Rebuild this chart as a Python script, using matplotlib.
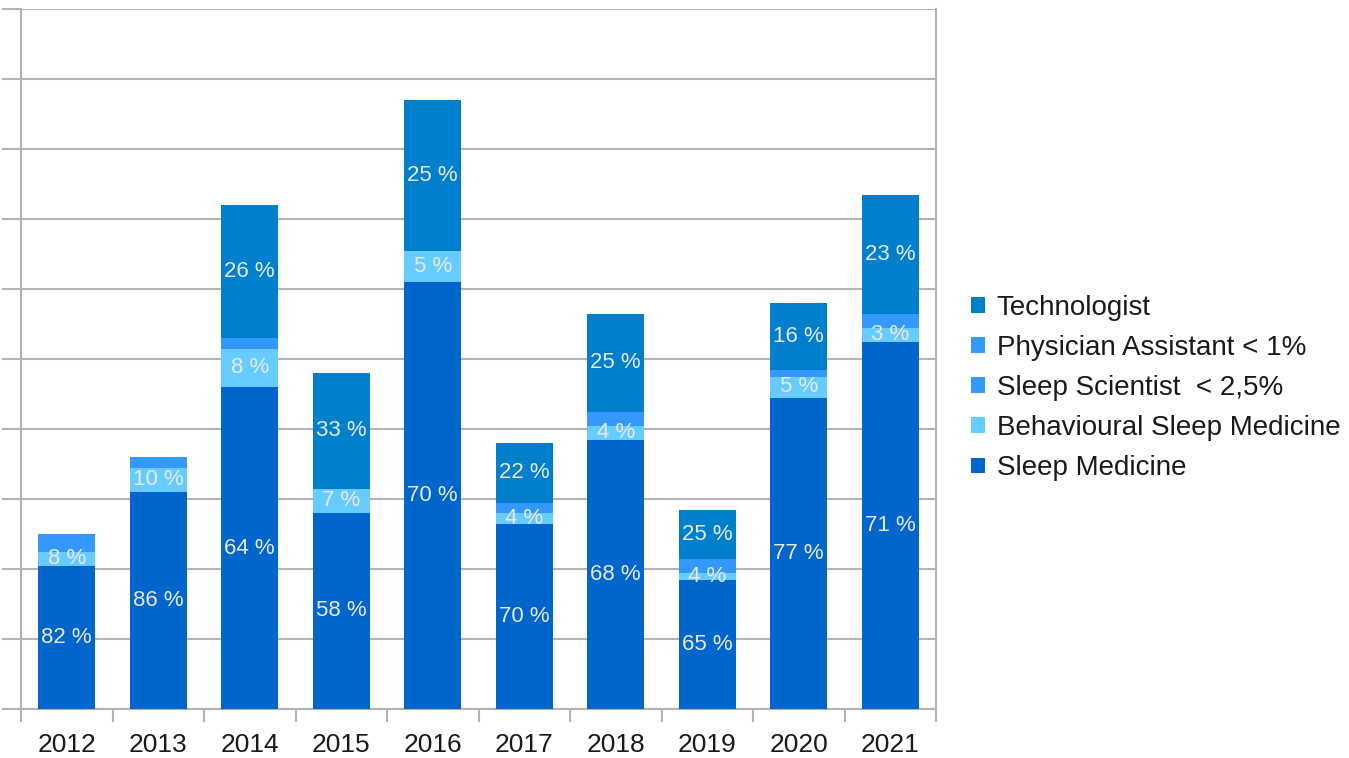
#!/usr/bin/env python3
"""
Stacked bars of members per year and profession
"""
import numpy as np
import matplotlib
matplotlib.use("Agg")
import matplotlib.pyplot as plt

years = ["2012", "2013", "2014", "2015", "2016", "2017", "2018", "2019", "2020", "2021"]

# segment heights, bottom to top
sleep_medicine = [41, 62, 92, 56, 122, 53, 77, 37, 89, 105]
behavioural = [4, 7, 11, 7, 9, 3, 4, 2, 6, 4]
sleep_scientist = [5, 3, 3, 0, 0, 3, 4, 4, 2, 4]
physician_assistant = [0, 0, 0, 0, 0, 0, 0, 0, 0, 0]
technologist = [0, 0, 38, 33, 43, 17, 28, 14, 19, 34]

# data labels as shown on the bars
pct_sleep_medicine = [82, 86, 64, 58, 70, 70, 68, 65, 77, 71]
pct_behavioural = [8, 10, 8, 7, 5, 4, 4, 4, 5, 3]
pct_technologist = [None, None, 26, 33, 25, 22, 25, 25, 16, 23]

series = [
    ("Sleep Medicine", sleep_medicine, "#0066cc", pct_sleep_medicine),
    ("Behavioural Sleep Medicine", behavioural, "#66ccff", pct_behavioural),
    ("Sleep Scientist  < 2,5%", sleep_scientist, "#3399ff", None),
    ("Physician Assistant < 1%", physician_assistant, "#3399ff", None),
    ("Technologist", technologist, "#0080cc", pct_technologist),
]

plt.rcParams['font.family'] = ['Liberation Sans', 'DejaVu Sans']

fig = plt.figure(figsize=(13.49, 7.58), dpi=100)
ax = fig.add_axes([21 / 1349, 49 / 758, 915 / 1349, 700 / 758])

x = np.arange(len(years))
bottom = np.zeros(len(years))
handles = []
for name, vals, color, pcts in series:
    vals = np.array(vals, dtype=float)
    bars = ax.bar(x, vals, width=0.62, bottom=bottom, color=color,
                  label=name, zorder=3, linewidth=0)
    handles.append(bars)
    if pcts is not None:
        for i, p in enumerate(pcts):
            if p is None or vals[i] == 0:
                continue
            ax.text(x[i], bottom[i] + vals[i] / 2, f"{p} %", ha='center',
                    va='center', color='#e8e8e8', fontsize=16, zorder=4)
    bottom += vals

grid_color = '#b3b3b3'
ax.set_xlim(-0.5, len(years) - 0.5)
ax.set_ylim(0, 200)
ax.set_yticks(np.arange(0, 201, 20))
ax.set_yticklabels([])
ax.yaxis.grid(True, color=grid_color, linewidth=1.5, zorder=0)
ax.tick_params(axis='y', length=14, width=1.5, color=grid_color)

# ticks between categories, labels at centres
ax.set_xticks(np.arange(-0.5, len(years), 1.0))
ax.set_xticklabels([])
ax.set_xticks(x, minor=True)
ax.set_xticklabels(years, minor=True, fontsize=19, color='#1a1a1a')
ax.tick_params(axis='x', which='major', length=9, width=1.5, color=grid_color)
ax.tick_params(axis='x', which='minor', length=0, pad=17)

for side in ['left', 'bottom', 'right']:
    ax.spines[side].set_color(grid_color)
    ax.spines[side].set_linewidth(1.5)
ax.spines['top'].set_visible(False)

fig.legend(handles[::-1], [s[0] for s in series][::-1],
           loc='center left', bbox_to_anchor=(946 / 1349, 1 - 388 / 758),
           frameon=False, fontsize=20, handlelength=0.5, handleheight=0.5,
           handletextpad=0.42, labelspacing=0.51, labelcolor='#1a1a1a')

fig.savefig("out.png", dpi=100)
